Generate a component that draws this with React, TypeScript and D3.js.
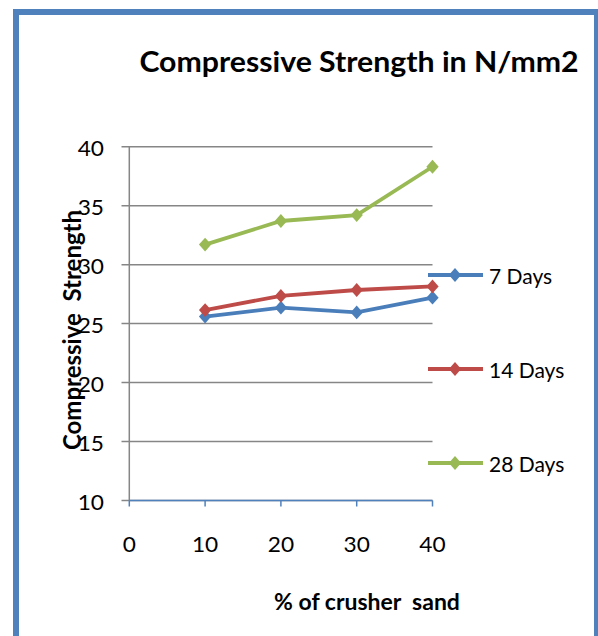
import React from "react";
import * as d3 from "d3";

const xValues = [10, 20, 30, 40];
const seriesNames = ["7 Days", "14 Days", "28 Days"];
const days7 = [25.6, 26.35, 25.95, 27.2];
const days14 = [26.15, 27.35, 27.85, 28.15];
const days28 = [31.7, 33.7, 34.2, 38.3];
const seriesColors = ["#4A7EBB", "#BE4B48", "#98B954"];
const yTicks = [10, 15, 20, 25, 30, 35, 40];
const xTicks = [0, 10, 20, 30, 40];

const FONT = "Lato, 'Open Sans', sans-serif";

const diamondType = {
  draw(context: any, size: number) {
    const w = Math.sqrt(size) * 0.55;
    const h = w * 1.12;
    context.moveTo(0, -h);
    context.lineTo(w, 0);
    context.lineTo(0, h);
    context.lineTo(-w, 0);
    context.closePath();
  },
};

function T({
  x,
  y,
  sx = 1,
  anchor = "start",
  size,
  bold = false,
  children,
}: {
  x: number;
  y: number;
  sx?: number;
  anchor?: string;
  size: number;
  bold?: boolean;
  children: any;
}) {
  return (
    <g transform={`translate(${x},${y}) scale(${sx},1)`}>
      <text
        x={0}
        y={0}
        textAnchor={anchor as any}
        fontFamily={FONT}
        fontWeight={bold ? "bold" : "normal"}
        fontSize={size}
        fill="#000"
        style={{ whiteSpace: "pre" }}
      >
        {children}
      </text>
    </g>
  );
}

export default function App() {
  const W = 598;
  const H = 636;
  const x = d3.scaleLinear().domain([0, 40]).range([129.3, 432.5]);
  const y = d3.scaleLinear().domain([10, 40]).range([500.5, 146.7]);
  const line = d3
    .line<number>()
    .x((_, i) => x(xValues[i]))
    .y((d) => y(d));
  const allSeries = [days7, days14, days28];
  const diamond = d3.symbol().type(diamondType as any).size(125)();
  const legendY = [275, 369, 463];

  return (
    <div style={{ position: "absolute", left: 0, top: 0 }}>
      <svg width={W} height={H} style={{ display: "block" }}>
        <rect x={0} y={0} width={W} height={H} fill="#fff" />
        <rect
          x={16}
          y={12}
          width={581}
          height={640}
          fill="#fff"
          stroke="#4F81BD"
          strokeWidth={6}
        />
        <T x={359} y={72} sx={1.08} anchor="middle" size={28} bold>
          Compressive Strength in N/mm2
        </T>
        {/* gridlines */}
        {yTicks.map((t) => (
          <line
            key={t}
            x1={121.5}
            x2={x(40)}
            y1={y(t)}
            y2={y(t)}
            stroke="#868686"
            strokeWidth={1.5}
          />
        ))}
        {/* y axis */}
        <line x1={x(0)} x2={x(0)} y1={y(40)} y2={y(10)} stroke="#868686" strokeWidth={1.5} />
        {yTicks.map((t) => (
          <T key={t} x={104} y={y(t) + 9} sx={1.08} anchor="end" size={21}>
            {t}
          </T>
        ))}
        {/* x axis */}
        <line x1={x(0)} x2={x(40)} y1={y(10)} y2={y(10)} stroke="#4F81BD" strokeWidth={1.5} />
        {xTicks.map((t) => (
          <g key={t}>
            <line x1={x(t)} x2={x(t)} y1={y(10)} y2={y(10) + 6} stroke="#4F81BD" strokeWidth={1.5} />
            <T x={x(t)} y={552} sx={1.08} anchor="middle" size={21}>
              {t}
            </T>
          </g>
        ))}
        <T x={367} y={610} anchor="middle" size={23} bold>
          {"% of crusher  sand"}
        </T>
        <g transform="translate(81,330) rotate(-90)">
          <text
            x={0}
            y={0}
            textAnchor="middle"
            fontFamily={FONT}
            fontWeight="bold"
            fontSize={24}
            fill="#000"
            style={{ whiteSpace: "pre" }}
          >
            {"Compressive  Strength"}
          </text>
        </g>
        {/* series */}
        {allSeries.map((s, si) => (
          <g key={si}>
            <path d={line(s) || ""} fill="none" stroke={seriesColors[si]} strokeWidth={3.8} />
            {s.map((v, i) => (
              <path
                key={i}
                d={diamond || ""}
                transform={`translate(${x(xValues[i])},${y(v)})`}
                fill={seriesColors[si]}
              />
            ))}
          </g>
        ))}
        {/* legend */}
        {seriesNames.map((n, i) => (
          <g key={n}>
            <line x1={428} x2={483} y1={legendY[i]} y2={legendY[i]} stroke={seriesColors[i]} strokeWidth={3.8} />
            <path d={diamond || ""} transform={`translate(455,${legendY[i]})`} fill={seriesColors[i]} />
            <T x={489} y={legendY[i] + 9} size={21}>
              {n}
            </T>
          </g>
        ))}
      </svg>
    </div>
  );
}
